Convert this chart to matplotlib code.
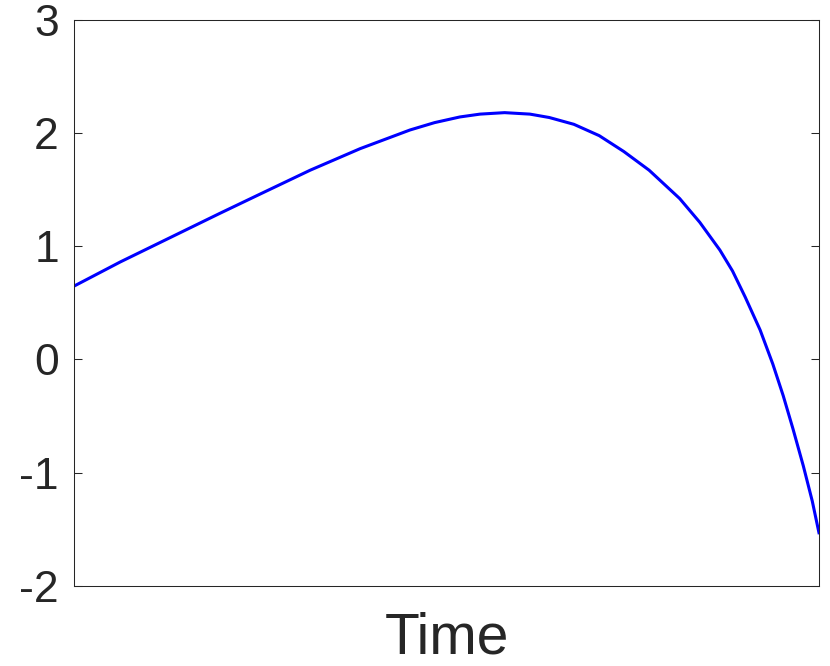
import matplotlib
matplotlib.use("Agg")
import matplotlib.pyplot as plt

# values (time normalised to 0..1)
time = [0.000, 0.062, 0.129, 0.196, 0.250, 0.317, 0.384, 0.451, 0.484, 0.518,
        0.545, 0.578, 0.612, 0.638, 0.671, 0.705, 0.738, 0.772, 0.813, 0.840,
        0.867, 0.884, 0.901, 0.921, 0.938, 0.952, 0.965, 0.979, 0.991, 1.000]
signal = [0.647, 0.860, 1.075, 1.290, 1.460, 1.670, 1.860, 2.025, 2.090, 2.140,
          2.165, 2.178, 2.165, 2.135, 2.075, 1.975, 1.835, 1.670, 1.420, 1.210,
          0.965, 0.780, 0.550, 0.260, -0.040, -0.320, -0.610, -0.940, -1.250, -1.530]

yticks = [-2, -1, 0, 1, 2, 3]

plt.rcParams['font.family'] = ['Liberation Sans', 'DejaVu Sans']

fig = plt.figure(figsize=(8.3, 6.66), dpi=100)
ax = fig.add_axes([0.0892, 0.1201, 0.8975, 0.8506])

ax.plot(time, signal, color=(0, 0, 1), linewidth=2.2)

ax.set_xlim(0, 1)
ax.set_ylim(-2, 3)
ax.set_xticks([])
ax.set_yticks(yticks)
ax.set_yticklabels([str(v) for v in yticks])
ax.tick_params(axis='y', direction='in', length=6, width=0.75, color='#262626',
               labelsize=32, labelcolor='#262626', pad=11, right=True)
for s in ax.spines.values():
    s.set_linewidth(0.75)
    s.set_color('#262626')

ax.set_xlabel('Time', fontsize=41, color='#262626', labelpad=18)

fig.savefig('out.png', dpi=100)
